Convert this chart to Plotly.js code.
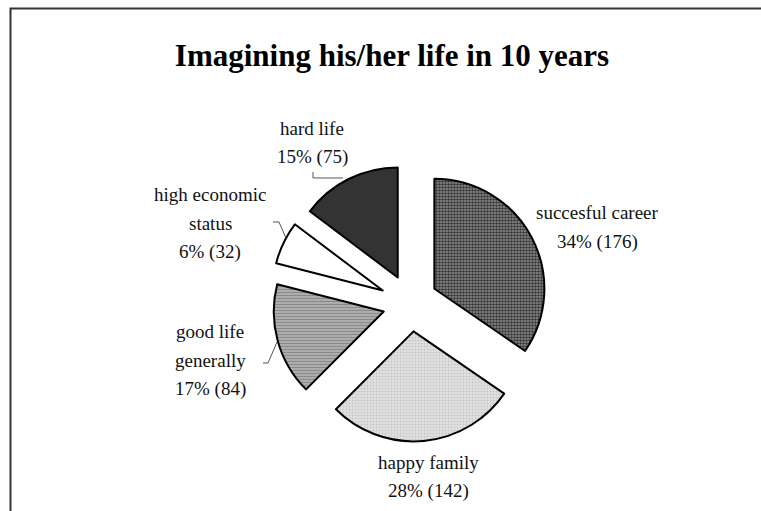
<!DOCTYPE html>
<html>
<head>
<meta charset="utf-8">
<script src="https://cdn.plot.ly/plotly-3.0.1.min.js"></script>
<style>html,body{margin:0;padding:0;background:#fff;}#chart{width:761px;height:511px;}</style>
</head>
<body>
<div id="chart"></div>
<script>
// ---- data ----
const categories = ["succesful career", "happy family", "good life generally", "high economic status", "hard life"];
const labelLines = [["succesful career"], ["happy family"], ["good life", "generally"], ["high economic", "status"], ["hard life"]];
const counts = [176, 142, 84, 32, 75];
const percents = [34, 28, 17, 6, 15];

// ---- styling ----
const pulls = [0.24, 0.25, 0.257, 0.285, 0.27];
const fillColors = ["#909090", "#e2e2e2", "#b4b4b4", "#ffffff", "#333333"];
const patShapes = [".", ".", "-", "", ""];
const patFg = ["#383838", "#c4c4c4", "#8a8a8a", "#000", "#000"];
const patSize = [3, 3, 3, 8, 8];
const patSolid = [0.55, 0.3, 0.45, 0.3, 0.3];

const W = 761, H = 511;
const R = 110;
const box = 2 * R * (1 + Math.max(...pulls));
function dom(cx, cy) {
  return {x: [(cx - box / 2) / W, (cx + box / 2) / W], y: [1 - (cy + box / 2) / H, 1 - (cy - box / 2) / H]};
}

function makeTrace(showIdx, domain) {
  const vis = categories.map((c, i) => showIdx(i));
  return {
    type: "pie",
    labels: categories,
    values: counts,
    sort: false,
    direction: "clockwise",
    rotation: 0,
    pull: pulls,
    textinfo: "none",
    hoverinfo: "label+value+percent",
    showlegend: false,
    domain: domain,
    marker: {
      colors: fillColors.map((c, i) => vis[i] ? c : "rgba(0,0,0,0)"),
      line: {color: vis.map(v => v ? "#000" : "rgba(0,0,0,0)"), width: vis.map(v => v ? 2 : 0)},
      pattern: {
        shape: patShapes.map((s, i) => vis[i] ? s : ""),
        fgcolor: patFg,
        bgcolor: fillColors.map((c, i) => vis[i] ? c : "rgba(0,0,0,0)"),
        size: patSize,
        solidity: patSolid,
        fillmode: "replace"
      }
    }
  };
}

const traceMain = makeTrace(i => i !== 0, dom(411, 304));
const traceCareer = makeTrace(i => i === 0, dom(411, 301));

// label positions (pixel centres of each text block) and line spacing
const labelPos = [[597, 213], [428, 462], [210, 331], [210, 194], [312, 128]];
const lineGap = 29;
const annotations = [];
categories.forEach((c, i) => {
  const lines = labelLines[i].concat([percents[i] + "% (" + counts[i] + ")"]);
  lines.forEach((ln, j) => {
    annotations.push({
      xref: "paper", yref: "paper",
      x: labelPos[i][0] / W, y: 1 - (labelPos[i][1] + j * lineGap) / H,
      xanchor: "center", yanchor: "middle",
      text: ln, showarrow: false,
      font: {family: "Liberation Serif, Times New Roman, serif", size: 19, color: "#111"}
    });
  });
});

function px(x, y) { return (x / W).toFixed(4) + "," + (1 - y / H).toFixed(4); }
const leaderStyle = {color: "#555", width: 1};
const shapes = [
  {type: "rect", xref: "paper", yref: "paper", x0: 10.5 / W, x1: 1.02, y0: -0.02, y1: 1 - 8.5 / H,
   line: {color: "#333", width: 2}, fillcolor: "rgba(0,0,0,0)", layer: "above"},
  {type: "path", xref: "paper", yref: "paper", path: "M" + px(313, 172) + " L" + px(313, 178) + " L" + px(343, 178), line: leaderStyle},
  {type: "path", xref: "paper", yref: "paper", path: "M" + px(273, 222) + " L" + px(279, 222) + " L" + px(286, 238), line: leaderStyle},
  {type: "path", xref: "paper", yref: "paper", path: "M" + px(263, 363) + " L" + px(268, 363) + " L" + px(277, 342), line: leaderStyle}
];

const layout = {
  width: W, height: H,
  margin: {l: 0, r: 0, t: 0, b: 0},
  paper_bgcolor: "#fff",
  title: {
    text: "<b>Imagining his/her life in 10 years</b>",
    x: 392 / W, xanchor: "center",
    y: 1 - 55 / H, yanchor: "middle",
    font: {family: "Liberation Serif, Times New Roman, serif", size: 31, color: "#000"}
  },
  annotations: annotations,
  shapes: shapes
};

Plotly.newPlot("chart", [traceMain, traceCareer], layout, {staticPlot: true});
</script>
</body>
</html>
